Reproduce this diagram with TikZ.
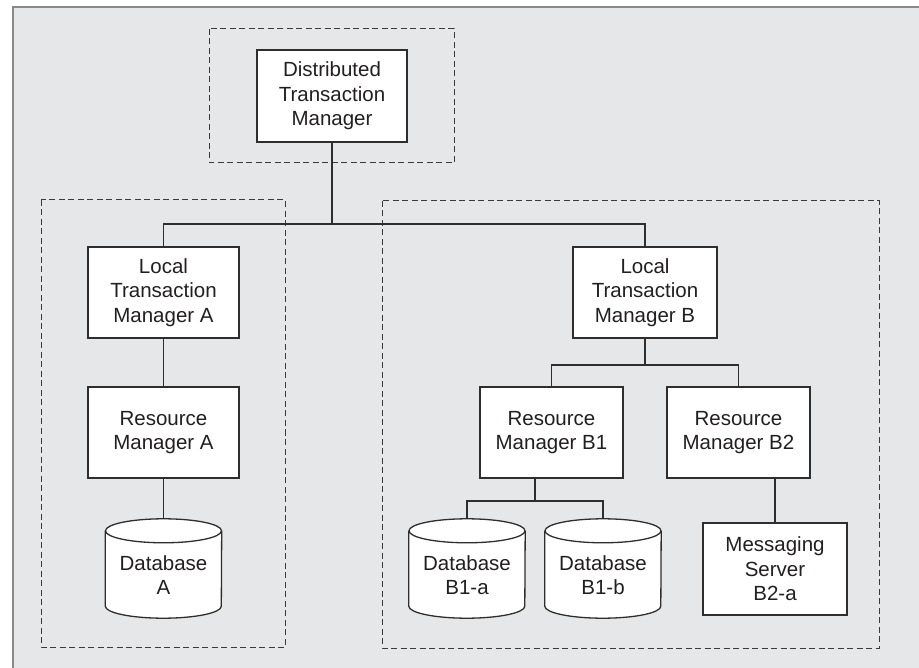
\documentclass[tikz,border=0pt]{standalone}
\usepackage{fontspec}
\setmainfont{Liberation Sans}
\usetikzlibrary{calc}

\definecolor{panel}{HTML}{E6E7E8}
\definecolor{frameline}{HTML}{8A8A8A}
\definecolor{ink}{HTML}{2E2E2E}
\definecolor{dashink}{HTML}{3A3A3A}
\definecolor{txt}{HTML}{231F20}

\tikzset{
  box/.style={draw=ink, line width=1.3pt, fill=white, text=txt,
    align=center, inner sep=0pt, font=\fontsize{20.5}{24.5}\selectfont},
  dbbox/.style={inner sep=0pt, minimum width=116pt, minimum height=99pt},
  dbtext/.style={align=center, text=txt, yshift=-6.5pt, inner sep=0pt,
    font=\fontsize{20.5}{24.5}\selectfont},
  wire/.style={draw=ink, line width=1.3pt},
  group/.style={draw=dashink, line width=1pt, dash pattern=on 6pt off 3.5pt},
}

% cylinder outline around a named database node
\newcommand\dbshape[1]{%
  \filldraw[draw=ink, line width=1.3pt, fill=white]
    ($(#1.north west)+(0,12)$) -- ($(#1.south west)+(0,-12)$)
    arc[start angle=180, end angle=360, x radius=58pt, y radius=12pt]
    -- ($(#1.north east)+(0,12)$);
  \filldraw[draw=ink, line width=1.3pt, fill=white]
    ($(#1.north)+(0,12)$) ellipse[x radius=58pt, y radius=12pt];
}

\begin{document}
\begin{tikzpicture}[x=1pt, y=-1pt]
  \useasboundingbox (0,0) rectangle (919,668);
  \fill[white] (0,0) rectangle (919,668);
  \fill[panel] (12,6) rectangle (919,668);
  \draw[frameline, line width=2pt] (13,668) -- (13,7) -- (919,7);

  % dashed groups
  \draw[group] (209,29) rectangle (454,163);
  \draw[group] (41,200) rectangle (285,647);
  \draw[group] (382,201) rectangle (879,648);

  % boxes
  \node[box, minimum width=150pt, minimum height=92pt] (dtm) at (332,96)
    {Distributed\\Transaction\\Manager};
  \node[box, minimum width=151pt, minimum height=91pt] (ltmA) at (163.5,292.5)
    {Local\\Transaction\\Manager A};
  \node[box, minimum width=151pt, minimum height=91pt] (rmA) at (163.5,432.5)
    {Resource\\Manager A};
  \node[box, minimum width=144pt, minimum height=91pt] (ltmB) at (645,292.5)
    {Local\\Transaction\\Manager B};
  \node[box, minimum width=143pt, minimum height=91pt] (rmB1) at (551.5,432.5)
    {Resource\\Manager B1};
  \node[box, minimum width=143pt, minimum height=91pt] (rmB2) at (738.5,432.5)
    {Resource\\Manager B2};
  \node[box, minimum width=144pt, minimum height=92pt] (ms) at (775,569)
    {Messaging\\Server\\B2-a};

  % databases
  \node[dbbox] (dbA) at (163.5,568.5) {};
  \node[dbbox] (dbB1a) at (467,568.5) {};
  \node[dbbox] (dbB1b) at (603,568.5) {};
  \dbshape{dbA}
  \dbshape{dbB1a}
  \dbshape{dbB1b}
  \node[dbtext] (dbAt) at (dbA) {Database\\A};
  \node[dbtext] (dbB1at) at (dbB1a) {Database\\B1-a};
  \node[dbtext] (dbB1bt) at (dbB1b) {Database\\B1-b};

  % junction points
  \coordinate (bus) at (332,224);
  \coordinate (splitB) at (645,365);
  \coordinate (splitB1) at (535,501);

  % connectors
  \draw[wire] (dtm.south) -- (bus);
  \draw[wire] (ltmA.north) |- (bus) -| (ltmB.north);
  \draw[wire] (ltmA.south) -- (rmA.north);
  \draw[wire] (rmA.south) -- (dbA.north);
  \draw[wire] (ltmB.south) -- (splitB);
  \draw[wire] (rmB1.north) |- (splitB) -| (rmB2.north);
  \draw[wire] (splitB1 |- rmB1.south) -- (splitB1);
  \draw[wire] (dbB1a.north) |- (splitB1) -| (dbB1b.north);
  \draw[wire] (ms.north |- rmB2.south) -- (ms.north);
\end{tikzpicture}
\end{document}
